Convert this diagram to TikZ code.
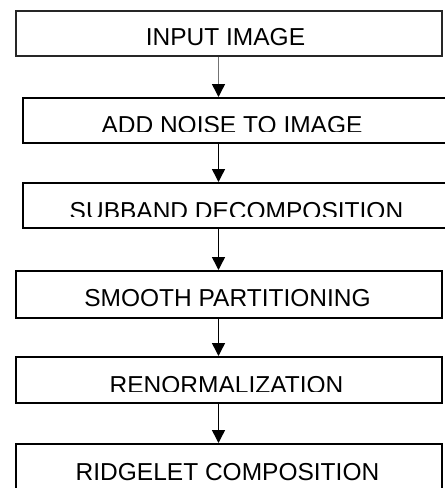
\documentclass[tikz,border=0pt]{standalone}
\usepackage{fontspec}
\setmainfont{Liberation Sans}
\usetikzlibrary{arrows.meta}
\begin{document}
\begin{tikzpicture}[x=1pt,y=-1pt,
  stepbox/.style={draw=black!85, line width=1.6pt, inner sep=0pt, anchor=north west},
  steptext/.style={anchor=base, inner sep=0pt, font=\fontsize{24.5}{28}\selectfont},
  arr/.style={line width=1.5pt, -{Triangle[width=13pt,length=13pt]}}]
\clip (0,0) rectangle (445,488);
\fill[white] (0,0) rectangle (445,488);
% boxes
\node[stepbox, minimum width=426pt, minimum height=45pt] (b1) at (15,10) {};
\node[stepbox, minimum width=428pt, minimum height=45pt, draw=black] (b2) at (22,97) {};
\node[stepbox, minimum width=428pt, minimum height=45pt, draw=black] (b3) at (22,182) {};
\node[stepbox, minimum width=426pt, minimum height=47pt, draw=black] (b4) at (15,270) {};
\node[stepbox, minimum width=426pt, minimum height=46pt, draw=black] (b5) at (15,356) {};
\node[stepbox, minimum width=426pt, minimum height=50pt, draw=black] (b6) at (15,443) {};
% texts
\node[steptext] (t1) at (225.5,45) {INPUT IMAGE};
\begin{scope}
\clip (0,98) rectangle (445,131);
\node[steptext] (t2) at (232,133) {ADD NOISE TO IMAGE};
\end{scope}
\begin{scope}
\clip (0,183) rectangle (445,216);
\node[steptext] (t3) at (236.5,219) {SUBBAND DECOMPOSITION};
\end{scope}
\node[steptext] (t4) at (227.5,306) {SMOOTH PARTITIONING};
\begin{scope}
\clip (0,357) rectangle (445,391);
\node[steptext] (t5) at (226.5,393) {RENORMALIZATION};
\end{scope}
\node[steptext] (t6) at (227.5,480) {RIDGELET COMPOSITION};
% connectors
\coordinate (ax) at (218.5,0);
\draw[arr, draw=black!55, -{Triangle[width=13pt,length=13pt,color=black]}] (ax |- b1.south) -- (ax |- b2.north);
\draw[arr] (ax |- b2.south) -- (ax |- b3.north);
\draw[arr] (ax |- b3.south) -- (ax |- b4.north);
\draw[arr] (ax |- b4.south) -- (ax |- b5.north);
\draw[arr] (ax |- b5.south) -- (ax |- b6.north);
\end{tikzpicture}
\end{document}
